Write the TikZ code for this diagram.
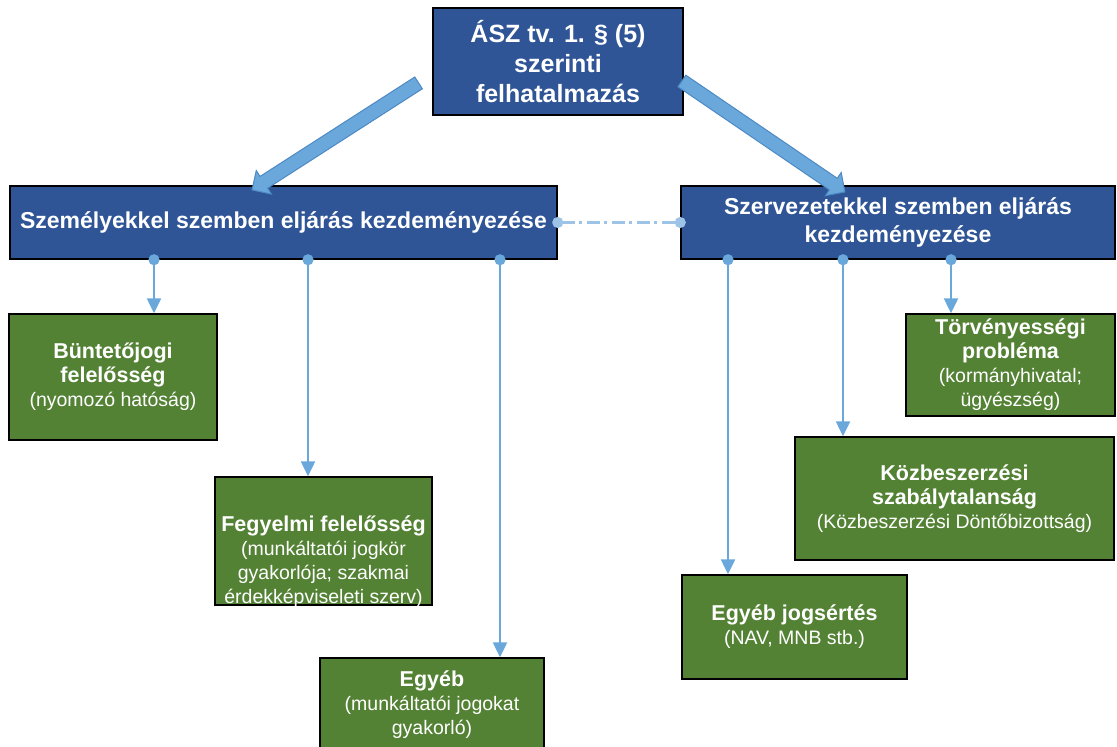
\documentclass[tikz,border=0pt]{standalone}
\usepackage{fontspec}
\setmainfont{Liberation Sans}
\usetikzlibrary{arrows.meta,shapes.arrows,calc}
\definecolor{boxblue}{RGB}{47,85,151}
\definecolor{boxgreen}{RGB}{84,130,53}
\definecolor{linkblue}{RGB}{106,168,219}
\definecolor{dashblue}{RGB}{157,195,230}
\definecolor{arrowline}{RGB}{77,137,196}
\newcommand{\ttl}[1]{{\fontsize{21.5bp}{24bp}\selectfont\bfseries #1}}
\tikzset{
  topbox/.style={draw=black, line width=1.5bp, fill=boxblue, text=white,
    align=center, inner sep=0pt, font=\fontsize{25bp}{30bp}\selectfont\bfseries},
  bluebox/.style={topbox, font=\fontsize{23bp}{28bp}\selectfont\bfseries},
  greenbox/.style={draw=black, line width=1.5bp, fill=boxgreen, text=white,
    align=center, inner sep=0pt, font=\fontsize{19.5bp}{24bp}\selectfont},
  greentext/.style={text=white, align=center, inner sep=0pt,
    font=\fontsize{19.5bp}{24bp}\selectfont},
  link/.style={draw=linkblue, line width=2.5bp, shorten <=-5.5bp,
    {Circle[length=11bp,fill=linkblue]}-{Triangle[length=15bp,width=14bp,fill=linkblue]}},
  peer/.style={draw=dashblue, line width=2.5bp, dash pattern=on 13bp off 4bp on 3bp off 5bp,
    shorten <=-5.5bp, shorten >=-5.5bp,
    {Circle[length=11bp,fill=dashblue]}-{Circle[length=11bp,fill=dashblue]}},
  bigarrow/.style={single arrow, draw=arrowline, fill=linkblue, line width=1bp,
    inner xsep=0pt, inner ysep=6.5bp, single arrow head extend=7bp,
    single arrow head indent=0bp}
}

\begin{document}
\begin{tikzpicture}[x=1bp,y=-1bp]
\useasboundingbox (0,0) rectangle (1117,747);

% top
\node[topbox, minimum width=250bp, minimum height=107bp] (asz) at (558,61.5)
  {ÁSZ tv. 1. § (5)\\szerinti\\felhatalmazás};

% two kinds of procedure
\node[bluebox, minimum width=547bp, minimum height=73bp] (szemely) at (283.5,222.5)
  {Személyekkel szemben eljárás kezdeményezése};
\node[bluebox, minimum width=434bp, minimum height=73bp] (szerv) at (898,222.5)
  {Szervezetekkel szemben eljárás\\kezdeményezése};

% green boxes, left side
\node[greenbox, minimum width=208bp, minimum height=126bp] (bunt) at (113,377)
  {\ttl{Büntetőjogi}\\\ttl{felelősség}\\(nyomozó hatóság)};
\node[greenbox, minimum width=217bp, minimum height=128bp] (fegy) at (323.5,541) {};
\node[greentext] (fegytxt) at (323.5,562)
  {\ttl{Fegyelmi felelősség}\\(munkáltatói jogkör\\gyakorlója; szakmai\\érdekképviseleti szerv)};
\node[greenbox, minimum width=224bp, minimum height=94bp] (egyeb) at (432,705)
  {\ttl{Egyéb}\\(munkáltatói jogokat\\gyakorló)};

% green boxes, right side
\node[greenbox, minimum width=209bp, minimum height=102bp] (torv) at (1010.5,365)
  {\ttl{Törvényességi}\\\ttl{probléma}\\(kormányhivatal;\\ügyészség)};
\node[greenbox, minimum width=319bp, minimum height=123bp] (kozb) at (954.5,498.5)
  {\ttl{Közbeszerzési}\\\ttl{szabálytalanság}\\(Közbeszerzési Döntőbizottság)};
\node[greenbox, minimum width=225bp, minimum height=104bp] (jogs) at (794.5,627)
  {\ttl{Egyéb jogsértés}\\(NAV, MNB stb.)};

% connectors
\foreach \x/\t in {154/bunt,308/fegy,500/egyeb}{
  \draw[link] (\x,0 |- szemely.south) -- (\x,0 |- \t.north);
}
\foreach \x/\t in {728/jogs,843/kozb,951/torv}{
  \draw[link] (\x,0 |- szerv.south) -- (\x,0 |- \t.north);
}
\draw[peer] (szemely.east) -- (szerv.west);

% big arrows
\coordinate (ltail) at (421.5,81);
\coordinate (lhead) at (255,188);
\coordinate (rtail) at (679,79);
\coordinate (rhead) at (842,190);
\path let \p1=($(lhead)-(ltail)$), \n1={atan2(\y1,\x1)}, \n2={veclen(\x1,\y1)} in
  node[bigarrow, minimum height=\n2, rotate=\n1] (larrow) at ($(ltail)!.5!(lhead)$) {};
\path let \p1=($(rhead)-(rtail)$), \n1={atan2(\y1,\x1)}, \n2={veclen(\x1,\y1)} in
  node[bigarrow, minimum height=\n2, rotate=\n1] (rarrow) at ($(rtail)!.5!(rhead)$) {};

\end{tikzpicture}
\end{document}
